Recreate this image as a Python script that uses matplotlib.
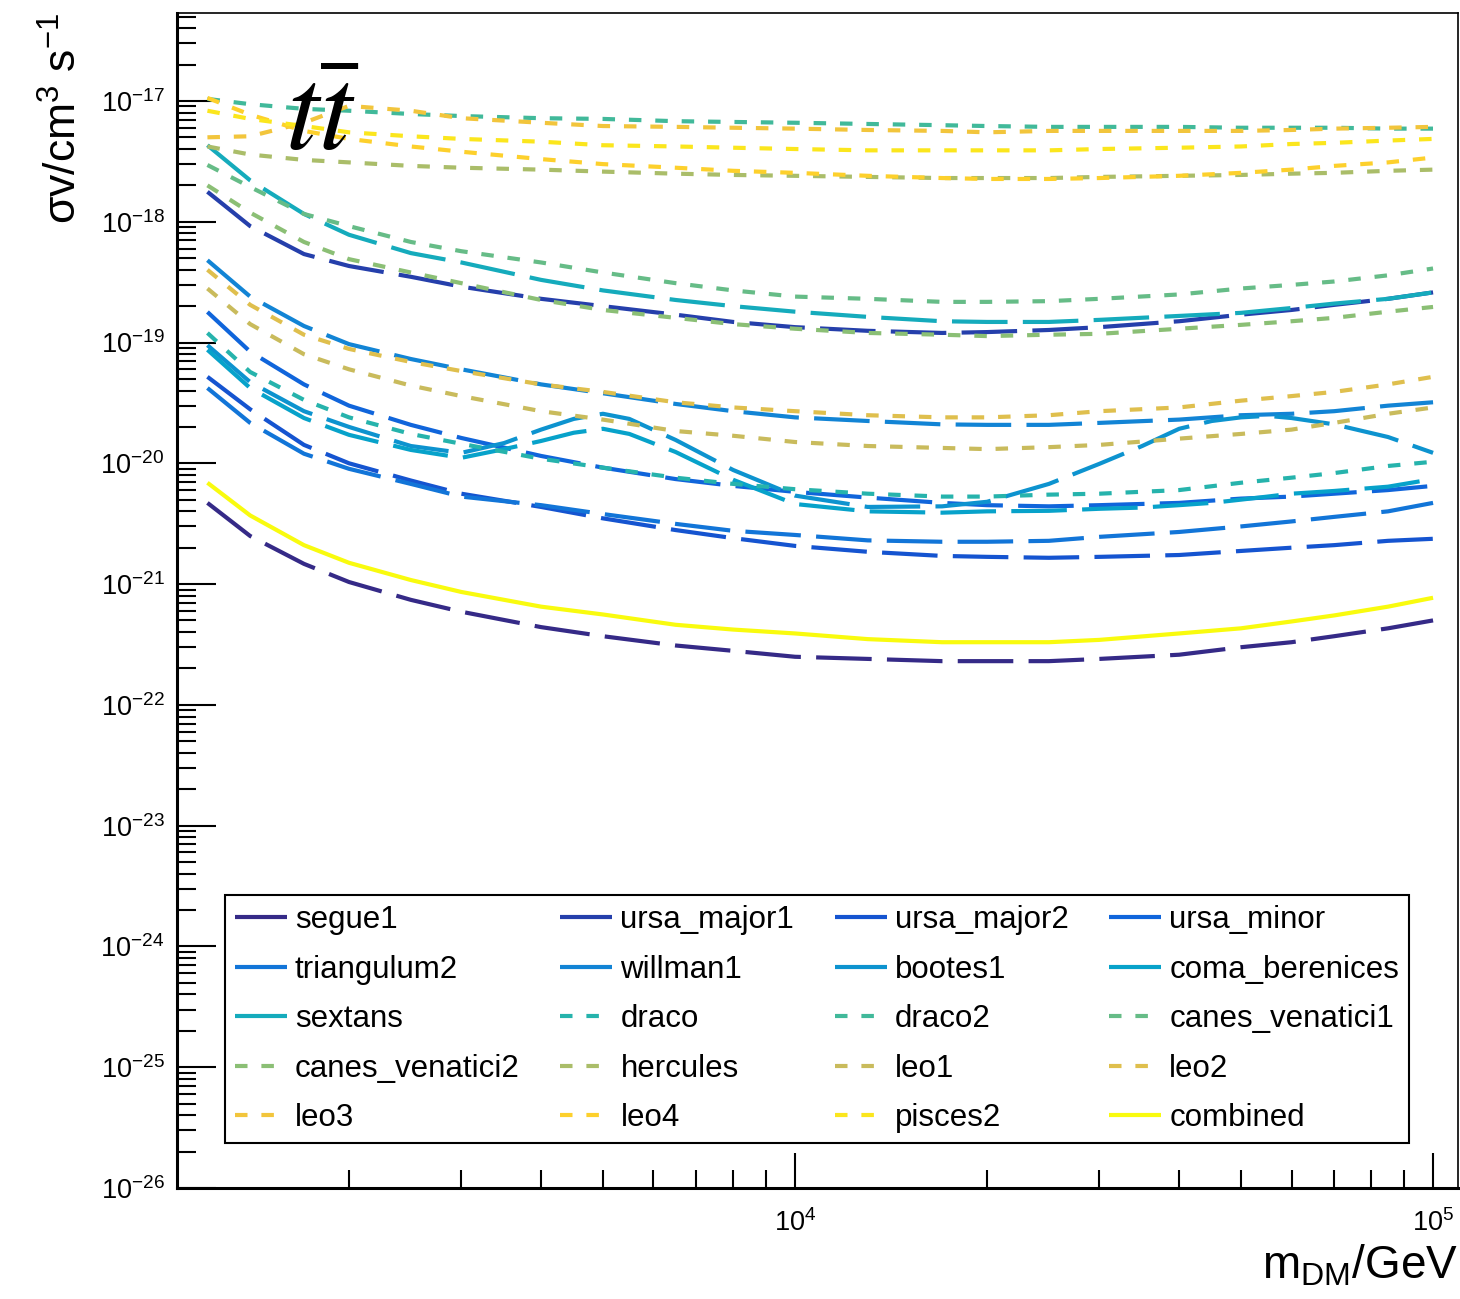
import numpy as np
import matplotlib
matplotlib.use("Agg")
import matplotlib.pyplot as plt
from matplotlib.ticker import LogLocator, FixedLocator, NullFormatter

plt.rcParams['font.family'] = ['Liberation Sans', 'DejaVu Sans']
plt.rcParams['mathtext.fontset'] = 'custom'
plt.rcParams['mathtext.rm'] = 'Liberation Sans'
plt.rcParams['mathtext.it'] = 'Liberation Sans:italic'
plt.rcParams['mathtext.bf'] = 'Liberation Sans:bold'
plt.rcParams['lines.scale_dashes'] = False

# dark matter mass grid (GeV)
mass_gev = [1200, 1400, 1700, 2000, 2500, 3000, 4000, 5000, 6500, 8000, 10000, 13000, 17000,
            20000, 25000, 30000, 40000, 50000, 60000, 70000, 85000, 100000]
# finer grid for the two limits with bumps
mass_fine = [1200, 1400, 1700, 2000, 2500, 3000, 3500, 4000, 4500, 5000, 5500, 6500, 8000, 10000,
             13000, 17000, 20000, 25000, 30000, 35000, 40000, 45000, 50000, 55000, 60000, 70000,
             85000, 100000]

# upper limits on <sigma v> (cm^3 s^-1), tt-bar channel
segue1 = [4.7e-21, 2.5e-21, 1.47e-21, 1.04e-21, 7.4e-22, 5.9e-22, 4.4e-22, 3.7e-22, 3.1e-22, 2.8e-22, 2.5e-22,
          2.4e-22, 2.3e-22, 2.3e-22, 2.3e-22, 2.4e-22, 2.6e-22, 3.0e-22, 3.3e-22, 3.7e-22, 4.3e-22, 5.0e-22]
ursa_major1 = [1.77e-18, 9.2e-19, 5.4e-19, 4.3e-19, 3.5e-19, 2.9e-19, 2.3e-19, 2.0e-19, 1.7e-19, 1.48e-19,
               1.34e-19, 1.25e-19, 1.2e-19, 1.22e-19, 1.27e-19, 1.34e-19, 1.5e-19, 1.7e-19, 1.86e-19,
               2.05e-19, 2.3e-19, 2.6e-19]
ursa_major2 = [5.2e-20, 2.8e-20, 1.42e-20, 1.0e-20, 7.2e-21, 5.6e-21, 4.35e-21, 3.5e-21, 2.8e-21, 2.4e-21,
               2.07e-21, 1.85e-21, 1.71e-21, 1.68e-21, 1.65e-21, 1.68e-21, 1.74e-21, 1.88e-21, 2.0e-21,
               2.1e-21, 2.28e-21, 2.37e-21]
ursa_minor = [1.79e-19, 8.4e-20, 4.5e-20, 3.0e-20, 2.08e-20, 1.62e-20, 1.15e-20, 9.2e-21, 7.4e-21, 6.5e-21,
              5.8e-21, 5.2e-21, 4.7e-21, 4.5e-21, 4.4e-21, 4.5e-21, 4.7e-21, 5.1e-21, 5.3e-21, 5.6e-21,
              6.0e-21, 6.5e-21]
triangulum2 = [4.2e-20, 2.16e-20, 1.2e-20, 9.0e-21, 6.75e-21, 5.3e-21, 4.5e-21, 3.8e-21, 3.15e-21, 2.76e-21,
               2.55e-21, 2.3e-21, 2.24e-21, 2.24e-21, 2.28e-21, 2.46e-21, 2.7e-21, 3.0e-21, 3.3e-21,
               3.6e-21, 4.0e-21, 4.7e-21]
willman1 = [4.8e-19, 2.4e-19, 1.37e-19, 9.7e-20, 7.3e-20, 6.0e-20, 4.5e-20, 3.8e-20, 3.1e-20, 2.7e-20,
            2.4e-20, 2.24e-20, 2.1e-20, 2.08e-20, 2.08e-20, 2.16e-20, 2.3e-20, 2.5e-20, 2.57e-20, 2.7e-20,
            3.0e-20, 3.2e-20]
bootes1 = [9.5e-20, 4.7e-20, 2.7e-20, 2.0e-20, 1.39e-20, 1.22e-20, 1.47e-20, 1.9e-20, 2.33e-20, 2.57e-20,
           2.33e-20, 1.56e-20, 8.8e-21, 5.4e-21, 4.35e-21, 4.4e-21, 4.8e-21, 6.75e-21, 9.9e-21, 1.39e-20,
           1.93e-20, 2.24e-20, 2.4e-20, 2.47e-20, 2.37e-20, 2.1e-20, 1.65e-20, 1.22e-20]
coma_berenices = [8.7e-20, 4.2e-20, 2.37e-20, 1.72e-20, 1.29e-20, 1.11e-20, 1.31e-20, 1.53e-20, 1.79e-20,
                  1.93e-20, 1.75e-20, 1.24e-20, 7.3e-21, 4.6e-21, 4.0e-21, 3.9e-21, 4.0e-21, 4.04e-21,
                  4.2e-21, 4.3e-21, 4.5e-21, 4.7e-21, 5.0e-21, 5.3e-21, 5.6e-21, 5.9e-21, 6.4e-21, 7.4e-21]
sextans = [4.3e-18, 2.2e-18, 1.16e-18, 7.8e-19, 5.5e-19, 4.6e-19, 3.3e-19, 2.7e-19, 2.25e-19, 2.0e-19,
           1.8e-19, 1.63e-19, 1.5e-19, 1.48e-19, 1.48e-19, 1.54e-19, 1.66e-19, 1.76e-19, 1.93e-19, 2.1e-19,
           2.3e-19, 2.6e-19]
draco = [1.2e-19, 5.7e-20, 3.35e-20, 2.4e-20, 1.75e-20, 1.45e-20, 1.09e-20, 9.2e-21, 7.6e-21, 6.75e-21,
         6.1e-21, 5.6e-21, 5.3e-21, 5.3e-21, 5.5e-21, 5.6e-21, 6.0e-21, 6.9e-21, 7.6e-21, 8.3e-21, 9.5e-21,
         1.03e-20]
draco2 = [1.04e-17, 9.4e-18, 8.6e-18, 8.3e-18, 7.8e-18, 7.5e-18, 7.2e-18, 7.1e-18, 6.8e-18, 6.7e-18, 6.6e-18,
          6.45e-18, 6.3e-18, 6.2e-18, 6.1e-18, 6.1e-18, 6.1e-18, 6.0e-18, 6.0e-18, 6.0e-18, 5.9e-18, 5.9e-18]
canes_venatici1 = [2.95e-18, 1.94e-18, 1.16e-18, 9.2e-19, 6.8e-19, 5.7e-19, 4.6e-19, 3.8e-19, 3.1e-19,
                   2.7e-19, 2.4e-19, 2.3e-19, 2.17e-19, 2.17e-19, 2.2e-19, 2.3e-19, 2.5e-19, 2.8e-19, 3.0e-19,
                   3.2e-19, 3.6e-19, 4.1e-19]
canes_venatici2 = [2.0e-18, 1.19e-18, 6.8e-19, 4.9e-19, 3.8e-19, 3.1e-19, 2.25e-19, 1.86e-19, 1.6e-19,
                   1.42e-19, 1.3e-19, 1.2e-19, 1.16e-19, 1.13e-19, 1.16e-19, 1.18e-19, 1.3e-19, 1.4e-19,
                   1.5e-19, 1.6e-19, 1.8e-19, 1.97e-19]
hercules = [4.2e-18, 3.6e-18, 3.25e-18, 3.1e-18, 2.9e-18, 2.8e-18, 2.7e-18, 2.6e-18, 2.5e-18, 2.44e-18, 2.4e-18,
            2.35e-18, 2.3e-18, 2.3e-18, 2.3e-18, 2.35e-18, 2.4e-18, 2.44e-18, 2.5e-18, 2.54e-18, 2.64e-18,
            2.7e-18]
leo1 = [2.8e-19, 1.42e-19, 8.0e-20, 6.0e-20, 4.4e-20, 3.6e-20, 2.7e-20, 2.3e-20, 1.85e-20, 1.69e-20, 1.5e-20,
        1.39e-20, 1.34e-20, 1.31e-20, 1.36e-20, 1.42e-20, 1.6e-20, 1.75e-20, 1.9e-20, 2.16e-20, 2.57e-20,
        2.9e-20]
leo2 = [4.0e-19, 2.05e-19, 1.16e-19, 8.85e-20, 6.9e-20, 5.8e-20, 4.5e-20, 3.9e-20, 3.2e-20, 2.9e-20, 2.7e-20,
        2.5e-20, 2.4e-20, 2.4e-20, 2.5e-20, 2.7e-20, 2.9e-20, 3.3e-20, 3.6e-20, 3.9e-20, 4.5e-20, 5.2e-20]
leo3 = [5.0e-18, 5.1e-18, 6.6e-18, 9.1e-18, 8.3e-18, 7.2e-18, 6.6e-18, 6.2e-18, 6.1e-18, 6.0e-18, 5.9e-18,
        5.75e-18, 5.65e-18, 5.5e-18, 5.65e-18, 5.65e-18, 5.65e-18, 5.65e-18, 5.75e-18, 5.9e-18, 6.0e-18,
        6.1e-18]
leo4 = [1.06e-17, 7.7e-18, 5.65e-18, 4.85e-18, 4.2e-18, 3.8e-18, 3.3e-18, 3.0e-18, 2.8e-18, 2.64e-18, 2.54e-18,
        2.4e-18, 2.3e-18, 2.26e-18, 2.26e-18, 2.3e-18, 2.4e-18, 2.54e-18, 2.7e-18, 2.9e-18, 3.1e-18, 3.4e-18]
pisces2 = [8.3e-18, 7.1e-18, 6.2e-18, 5.5e-18, 5.1e-18, 4.85e-18, 4.6e-18, 4.3e-18, 4.2e-18, 4.1e-18, 4.0e-18,
           3.9e-18, 3.9e-18, 3.9e-18, 3.9e-18, 4.0e-18, 4.1e-18, 4.2e-18, 4.4e-18, 4.5e-18, 4.7e-18, 4.85e-18]
combined = [6.9e-21, 3.7e-21, 2.1e-21, 1.5e-21, 1.08e-21, 8.6e-22, 6.5e-22, 5.6e-22, 4.6e-22, 4.2e-22, 3.9e-22,
            3.5e-22, 3.3e-22, 3.3e-22, 3.3e-22, 3.45e-22, 3.9e-22, 4.3e-22, 4.9e-22, 5.5e-22, 6.5e-22, 7.7e-22]

names = ['segue1', 'ursa_major1', 'ursa_major2', 'ursa_minor', 'triangulum2', 'willman1', 'bootes1',
         'coma_berenices', 'sextans', 'draco', 'draco2', 'canes_venatici1', 'canes_venatici2', 'hercules',
         'leo1', 'leo2', 'leo3', 'leo4', 'pisces2', 'combined']
limits = [segue1, ursa_major1, ursa_major2, ursa_minor, triangulum2, willman1, bootes1, coma_berenices,
          sextans, draco, draco2, canes_venatici1, canes_venatici2, hercules, leo1, leo2, leo3, leo4,
          pisces2, combined]

# axis decades that get a label
y_decades = [1e-26, 1e-25, 1e-24, 1e-23, 1e-22, 1e-21, 1e-20, 1e-19, 1e-18, 1e-17]
x_decades = [1e4, 1e5]

# ROOT kBird palette
bird_stops = [0.0, 0.125, 0.25, 0.375, 0.5, 0.625, 0.75, 0.875, 1.0]
bird_r = [0.2082, 0.0592, 0.0780, 0.0232, 0.1802, 0.5301, 0.8186, 0.9956, 0.9764]
bird_g = [0.1664, 0.3599, 0.5041, 0.6419, 0.7178, 0.7492, 0.7328, 0.7862, 0.9832]
bird_b = [0.5293, 0.8684, 0.8385, 0.7914, 0.6425, 0.4662, 0.3499, 0.1968, 0.0539]


def bird(f):
    return (np.interp(f, bird_stops, bird_r), np.interp(f, bird_stops, bird_g), np.interp(f, bird_stops, bird_b))


long_dash = (0, (40, 11))
short_dash = (0, (9, 10))

fig = plt.figure(figsize=(14.6, 12.99), dpi=100)
ax = fig.add_axes([0.1212, 0.0855, 0.8774, 0.9045])

n = len(names)
lines = []
for i, (name, sv) in enumerate(zip(names, limits)):
    m = mass_fine if len(sv) == len(mass_fine) else mass_gev
    if i == n - 1:
        ls = '-'
    elif i < 9:
        ls = long_dash
    else:
        ls = short_dash
    ln, = ax.plot(m, sv, color=bird(i / (n - 1)), lw=3.0, ls=ls, label=name,
                  solid_capstyle='butt', dash_capstyle='butt')
    lines.append(ln)

ax.set_xscale('log')
ax.set_yscale('log')
ax.set_xlim(1075, 1.094e5)
ax.set_ylim(1e-26, 5.35e-17)

ax.xaxis.set_major_locator(FixedLocator(x_decades))
ax.yaxis.set_major_locator(FixedLocator(y_decades))
for axis in (ax.xaxis, ax.yaxis):
    axis.set_minor_locator(LogLocator(base=10, subs=np.arange(2, 10), numticks=20))
    axis.set_minor_formatter(NullFormatter())

ax.tick_params(which='both', direction='in', top=False, right=False, width=1.5)
ax.tick_params(axis='y', which='major', length=28, pad=9, labelsize=19.5)
ax.tick_params(axis='y', which='minor', length=14)
ax.tick_params(axis='x', which='major', length=25, pad=15, labelsize=19.5)
ax.tick_params(axis='x', which='minor', length=13)
for side in ('left', 'bottom'):
    ax.spines[side].set_linewidth(2.2)
for side in ('top', 'right'):
    ax.spines[side].set_linewidth(1.2)

ax.set_ylabel('σv/cm$^{3}$ s$^{-1}$', fontsize=32, loc='top')
ax.yaxis.set_label_coords(-0.071, 1.0)
ax.set_xlabel(r'm$_{\mathrm{DM}}$/GeV', fontsize=33, loc='right')
ax.xaxis.set_label_coords(1.0, -0.047)

ax.text(0.084, 0.883, r'$t\bar{t}$', transform=ax.transAxes, fontsize=86,
        math_fontfamily='stix', ha='left', va='baseline')

# legend filled row by row, 4 columns
order = [r * 4 + c for c in range(4) for r in range(5)]
leg = ax.legend([lines[k] for k in order], [names[k] for k in order], ncol=4, loc='lower left',
                bbox_to_anchor=(0.0375, 0.0383), fontsize=22.5, frameon=True, fancybox=False,
                edgecolor='black', framealpha=1, handlelength=1.66, handletextpad=0.26,
                columnspacing=1.3, labelspacing=0.62, borderpad=0.32, borderaxespad=0)
leg.get_frame().set_linewidth(1.5)

fig.savefig('out.png', dpi=100)
